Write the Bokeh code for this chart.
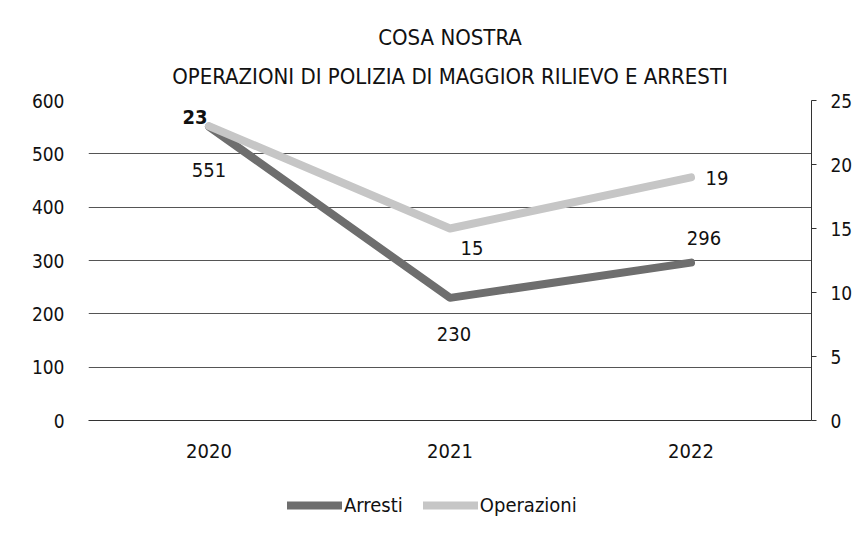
from bokeh.plotting import figure
from bokeh.layouts import column
from bokeh.models import LinearAxis, Range1d, Legend, LegendItem, ColumnDataSource, Title
from bokeh.core.properties import value
from bokeh.embed import file_html
from bokeh.resources import INLINE

years = ["2020", "2021", "2022"]
arresti = [551, 230, 296]
operazioni = [23, 15, 19]
left_ticks = [0, 100, 200, 300, 400, 500, 600]
right_ticks = [0, 5, 10, 15, 20, 25]
series_names = ["Arresti", "Operazioni"]

FONT = "DejaVu Sans Condensed"
C_ARR = "#6e6e6e"
C_OPE = "#c6c6c6"

p = figure(frame_width=723, frame_height=320, x_range=years, y_range=Range1d(0, 600),
           output_backend="svg", toolbar_location=None,
           min_border_left=88, min_border_right=45, min_border_top=100, min_border_bottom=62)
p.extra_y_ranges = {"right": Range1d(0, 25)}

p.outline_line_color = None
p.background_fill_color = "white"
p.border_fill_color = "white"

p.xgrid.grid_line_color = None
p.ygrid.grid_line_color = "#555555"
p.ygrid.grid_line_width = 1
p.ygrid.ticker = left_ticks

yl = p.yaxis[0]
yl.ticker = left_ticks
yl.axis_line_color = None
yl.major_tick_line_color = None
yl.minor_tick_line_color = None
yl.major_label_text_font = FONT
yl.major_label_text_font_size = "19px"
yl.major_label_text_color = "#111111"
yl.major_label_standoff = 18

yr = LinearAxis(y_range_name="right", ticker=right_ticks)
yr.axis_line_color = "#333333"
yr.axis_line_width = 1
yr.major_tick_line_color = "#333333"
yr.major_tick_out = 5
yr.major_tick_in = 0
yr.minor_tick_line_color = None
yr.major_label_text_font = FONT
yr.major_label_text_font_size = "19px"
yr.major_label_text_color = "#111111"
yr.major_label_standoff = 14
p.add_layout(yr, "right")

xa = p.xaxis[0]
xa.axis_line_color = "#333333"
xa.major_tick_line_color = None
xa.minor_tick_line_color = None
xa.major_label_text_font = FONT
xa.major_label_text_font_size = "20px"
xa.major_label_text_color = "#111111"
xa.major_label_standoff = 17

src = ColumnDataSource(dict(x=years, a=arresti, o=operazioni))

p.line("x", "a", source=src, line_color=C_ARR, line_width=8, line_cap="round", line_join="round")
p.line("x", "o", source=src, y_range_name="right", line_color=C_OPE, line_width=8,
       line_cap="round", line_join="round")

lbl = dict(text_font=value(FONT), text_font_size="20px", text_align="center",
           text_baseline="middle", text_color="#111111")
p.text(x=[years[0]], y=[arresti[0]], text=[str(arresti[0])], x_offset=0, y_offset=43, **lbl)
p.text(x=[years[1]], y=[arresti[1]], text=[str(arresti[1])], x_offset=4, y_offset=36, **lbl)
p.text(x=[years[2]], y=[arresti[2]], text=[str(arresti[2])], x_offset=13, y_offset=-25, **lbl)
p.text(x=[years[0]], y=[operazioni[0]], text=[str(operazioni[0])], x_offset=-14, y_offset=-9,
       y_range_name="right", text_font_style="bold", **lbl)
p.text(x=[years[1]], y=[operazioni[1]], text=[str(operazioni[1])], x_offset=22, y_offset=19,
       y_range_name="right", **lbl)
p.text(x=[years[2]], y=[operazioni[2]], text=[str(operazioni[2])], x_offset=26, y_offset=1,
       y_range_name="right", **lbl)

t2 = Title(text="OPERAZIONI DI POLIZIA DI MAGGIOR RILIEVO E ARRESTI", align="center",
           text_font=FONT, text_font_size="22px", text_font_style="normal", text_color="#111111",
           standoff=24, text_line_height=0.8)
t1 = Title(text="COSA NOSTRA", align="center",
           text_font=FONT, text_font_size="22px", text_font_style="normal", text_color="#111111",
           standoff=0, text_line_height=0.8)
p.title = None
p.add_layout(t2, "above")
p.add_layout(t1, "above")

# legend strip under the chart
lg = figure(width=856, height=46, x_range=Range1d(0, 1), y_range=Range1d(0, 1),
            output_backend="svg", toolbar_location=None,
            min_border_left=0, min_border_right=0, min_border_top=0, min_border_bottom=0)
lg.axis.visible = False
lg.grid.grid_line_color = None
lg.outline_line_color = None
lg.border_fill_color = "white"
la = lg.line(x=[5, 6], y=[5, 6], line_color=C_ARR, line_width=8, line_cap="round")
lo = lg.line(x=[5, 6], y=[5, 6], line_color=C_OPE, line_width=8, line_cap="round")
legend = Legend(items=[LegendItem(label=series_names[0], renderers=[la]),
                       LegendItem(label=series_names[1], renderers=[lo])],
                orientation="horizontal", location=(199, 11),
                label_text_font=FONT, label_text_font_size="20px",
                label_text_color="#111111", glyph_width=55, glyph_height=20,
                spacing=20, label_standoff=2,
                border_line_color=None, background_fill_alpha=0, margin=0, padding=2)
lg.add_layout(legend, "center")

layout = column(p, lg, spacing=0)
open("out.html", "w").write(file_html(layout, INLINE))
